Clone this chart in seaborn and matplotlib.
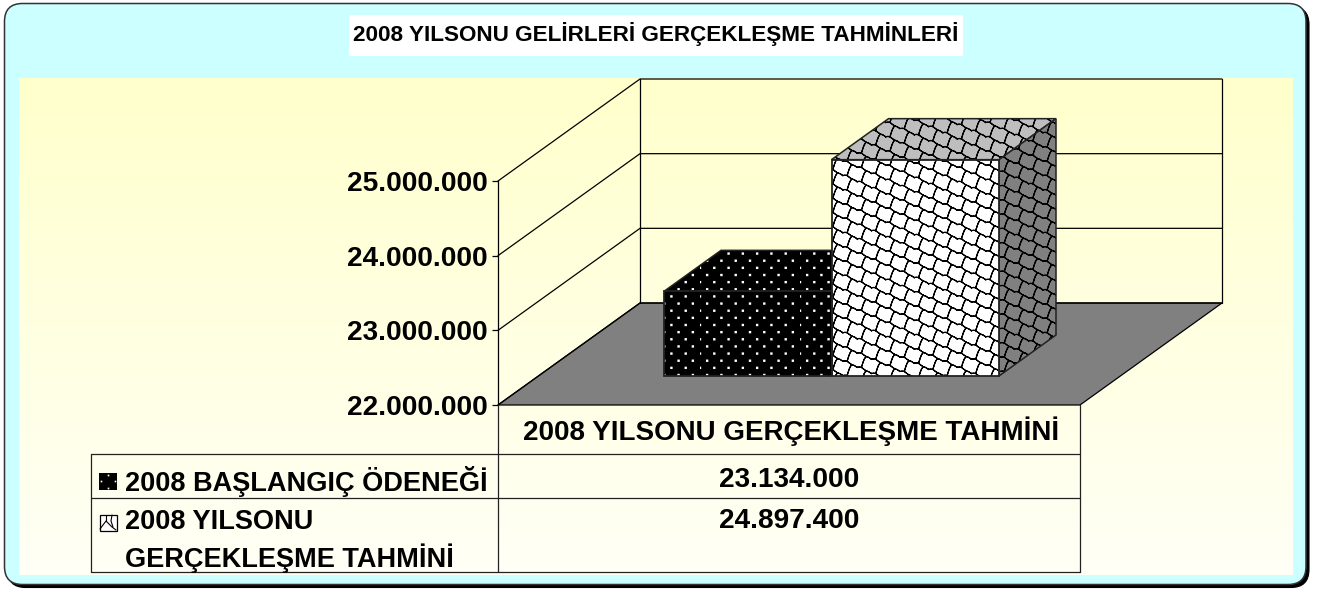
import numpy as np
import pandas as pd
import matplotlib.pyplot as plt
import matplotlib.hatch as mhatch
from matplotlib.colors import LinearSegmentedColormap
from matplotlib.patches import FancyBboxPatch, Polygon, Rectangle
from matplotlib.path import Path
from matplotlib.ticker import FuncFormatter
import seaborn as sns

# Data
category = ['2008 YILSONU GERÇEKLEŞME TAHMİNİ']
series_names = ['2008 BAŞLANGIÇ ÖDENEĞİ', '2008 YILSONU\nGERÇEKLEŞME TAHMİNİ']
series_values = [23134000, 24897400]
value_labels = ['23.134.000', '24.897.400']
y_ticks = [22000000, 23000000, 24000000, 25000000]
chart_title = '2008 YILSONU GELİRLERİ GERÇEKLEŞME TAHMİNLERİ'


# Excel style fill patterns as hatches ('.' = dots, 'O' = scales)
class DotHatch(mhatch.HatchPatternBase):
    def __init__(self, hatch, density):
        self.on = '.' in hatch
        self.num_vertices = 14 * 7 * 5 if self.on else 0

    def set_vertices_and_codes(self, vertices, codes):
        r = 0.006
        box = np.array([[-r, -r], [r, -r], [r, r], [-r, r], [-r, -r]])
        pts = []
        for row in range(14):
            for col in range(7):
                pts.append(box + [(col + (row % 2) * 0.5) / 7, (row + 0.5) / 14])
        vertices[:] = np.concatenate(pts)
        codes[:] = np.tile([Path.MOVETO, Path.LINETO, Path.LINETO, Path.LINETO, Path.CLOSEPOLY], 14 * 7)


class ScaleHatch(mhatch.HatchPatternBase):
    n = 7
    # one cell: a wavy strand going down to the right, and a link to the strand below (y is up here)
    strand = np.array([[0, 0], [0.15, 0.02], [0.30, 0.0], [0.45, -0.12], [0.62, -0.24], [0.80, -0.30], [1, -0.43]])
    link = np.array([[0.62, -0.24], [0.50, -0.42], [0.42, -0.62], [0.30, -1.0]])

    def __init__(self, hatch, density):
        self.on = 'O' in hatch
        per_cell = 2 * (len(self.strand) + len(self.link))
        self.num_vertices = self.n ** 2 * per_cell * 2 if self.on else 0

    def set_vertices_and_codes(self, vertices, codes):
        pts, cds = [], []
        for col in range(self.n):
            for row in range(self.n):
                base_y = (row - col * 3 / 7) / self.n % 1
                for wrap in (0, 1):
                    off = np.array([col / self.n, base_y + wrap])
                    for shape in (self.strand, self.link):
                        s = shape / self.n + off
                        # out and back so the line has no area to fill
                        for piece in (s, s[::-1]):
                            pts.append(piece)
                            cds.append([Path.MOVETO] + [Path.LINETO] * (len(piece) - 1))
        vertices[:] = np.concatenate(pts)
        codes[:] = np.concatenate(cds)


mhatch._hatch_types[:] = [DotHatch, ScaleHatch]

sns.set_theme(style='ticks', rc={'text.color': 'black', 'ytick.color': 'black', 'ytick.labelcolor': 'black'})
plt.rcParams['font.family'] = ['Liberation Sans', 'DejaVu Sans']
plt.rcParams['font.weight'] = 'bold'
plt.rcParams['hatch.linewidth'] = 0.85

W, H = 1321, 589
fig = plt.figure(figsize=(W / 100, H / 100), dpi=100)


def place(x0, y0, x1, y1, zorder):
    # axes from pixel box, y measured from the top
    return fig.add_axes([x0 / W, 1 - y1 / H, (x1 - x0) / W, (y1 - y0) / H], zorder=zorder)


def pixel_axes(zorder):
    a = place(0, 0, W, H, zorder)
    a.set_xlim(0, W)
    a.set_ylim(H, 0)
    a.axis('off')
    a.patch.set_alpha(0)
    return a


FLOOR_Y = 405
AXIS_X = 498
WALL_DX, WALL_DY = 142, 102
FRONT_X = AXIS_X + 582
BAR_DX, BAR_DY = 57, 41

# Panel and plot background
bg = pixel_axes(0)
bg.add_patch(FancyBboxPatch((7.5, 6.5), 1301.5, 581, boxstyle='round,pad=0,rounding_size=18', fc='black', ec='black', lw=0.8))
bg.add_patch(FancyBboxPatch((4.5, 3.5), 1301.5, 581, boxstyle='round,pad=0,rounding_size=18', fc='#CCFFFF', ec='#333333', lw=1.1))
grad = LinearSegmentedColormap.from_list('wall', ['#FFFFCC', '#FFFFF6'])
bg.imshow(np.linspace(0, 1, 256).reshape(-1, 1), cmap=grad, extent=(19, 1293, 575, 78), aspect='auto', zorder=1)
bg.set_xlim(0, W)
bg.set_ylim(H, 0)

# Value axis, on the left edge of the side wall
value_ax = place(AXIS_X, 181, AXIS_X + 142, FLOOR_Y, 1)
value_ax.patch.set_alpha(0)
value_ax.set_ylim(y_ticks[0], y_ticks[-1])
value_ax.set_xticks([])
value_ax.set_yticks(y_ticks)
value_ax.yaxis.set_major_formatter(FuncFormatter(lambda v, p: f'{int(v):,}'.replace(',', '.')))
value_ax.tick_params(axis='y', length=4.5, width=0.9, pad=3, labelsize=20.2, color='black')
sns.despine(ax=value_ax, right=True, top=True, bottom=True)
value_ax.spines['left'].set_color('black')
value_ax.spines['left'].set_linewidth(0.9)

# Walls and floor
bg.add_patch(Polygon([(AXIS_X, FLOOR_Y), (AXIS_X + WALL_DX, FLOOR_Y - WALL_DY), (FRONT_X + WALL_DX, FLOOR_Y - WALL_DY),
                      (FRONT_X, FLOOR_Y)], fc='#808080', ec='black', lw=0.9, zorder=2))
for tick in y_ticks:
    y = H - value_ax.transData.transform((0, tick))[1]
    bg.plot([AXIS_X, AXIS_X + WALL_DX, FRONT_X + WALL_DX], [y, y - WALL_DY, y - WALL_DY], color='black', lw=0.9, zorder=2)
bg.plot([AXIS_X + WALL_DX] * 2, [FLOOR_Y - WALL_DY, 181 - WALL_DY], color='black', lw=0.9, zorder=2)
bg.plot([FRONT_X + WALL_DX] * 2, [FLOOR_Y - WALL_DY, 181 - WALL_DY], color='black', lw=0.9, zorder=2)

# Bars, front faces drawn by seaborn
df = pd.DataFrame({'category': category * 2, 'series': series_names, 'value': series_values})
bar_ax = place(664, 152, 999, 376, 3)
bar_ax.patch.set_alpha(0)
sns.barplot(data=df, x='category', y='value', hue='series', hue_order=series_names, width=1, gap=0,
            palette=['black', 'white'], legend=False, ax=bar_ax, saturation=1)
bar_ax.set_xlim(-0.5, 0.5)
bar_ax.set_ylim(y_ticks[0], y_ticks[-1])
bar_ax.axis('off')

# Depth faces, worked out from the seaborn bars
depth = pixel_axes(2)
bars = list(bar_ax.patches)
styles = [('black', 'black', 'white', '.'), ('#BEBEBE', '#808080', 'black', 'O')]
for bar, (top_c, side_c, hatch_c, hatch) in zip(bars, styles):
    x0, x1 = bar.get_x(), bar.get_x() + bar.get_width()
    px0, py0 = bar_ax.transData.transform((x0, y_ticks[0]))
    px1, py1 = bar_ax.transData.transform((x1, bar.get_height()))
    py0, py1 = H - py0, H - py1
    top = [(px0, py1), (px0 + BAR_DX, py1 - BAR_DY), (px1 + BAR_DX, py1 - BAR_DY), (px1, py1)]
    side = [(px1, py0), (px1, py1), (px1 + BAR_DX, py1 - BAR_DY), (px1 + BAR_DX, py0 - BAR_DY)]
    for pts, c in ((top, top_c), (side, side_c)):
        depth.add_patch(Polygon(pts, fc=c, ec=hatch_c, lw=0, hatch=hatch))
        depth.add_patch(Polygon(pts, fill=False, ec='#222222', lw=1.1))
    bar.set_edgecolor(hatch_c)
    bar.set_linewidth(0)
    bar.set_hatch(hatch)
    bar_ax.add_patch(Rectangle((x0, y_ticks[0]), x1 - x0, bar.get_height() - y_ticks[0], fill=False, ec='#222222',
                               lw=1.3, clip_on=False))

# Title and data table
txt = pixel_axes(4)
txt.add_patch(Rectangle((349, 15), 614, 41, fc='white', ec='none'))
txt.text(655.5, 34, chart_title, fontsize=16.2, ha='center', va='center', color='black')

for y in (454, 498, 572):
    txt.plot([91, FRONT_X], [y, y], color='#222222', lw=0.9)
txt.plot([91, 91], [454, 572], color='#222222', lw=0.9)
txt.plot([AXIS_X, AXIS_X], [FLOOR_Y, 572], color='#222222', lw=0.9)
txt.plot([FRONT_X, FRONT_X], [FLOOR_Y, 572], color='#222222', lw=0.9)

center_x = (AXIS_X + FRONT_X) / 2
txt.text(center_x + 2, 431, category[0], fontsize=20, ha='center', va='center')
txt.text(125, 481.5, series_names[0], fontsize=19.5, ha='left', va='center')
first, second = series_names[1].split('\n')
txt.text(125, 522, first, fontsize=19.5, ha='left', va='center')
txt.text(125, 558, second, fontsize=19.5, ha='left', va='center')
txt.text(center_x, 480, value_labels[0], fontsize=20.2, ha='center', va='center')
txt.text(center_x, 521, value_labels[1], fontsize=20.2, ha='center', va='center')

# Legend keys
txt.add_patch(Rectangle((99, 473), 18, 17, fc='black', ec='none'))
txt.plot([101, 108, 115, 108], [481, 475, 481, 487.5], ls='none', marker='s', ms=1.2, mew=0, color='white')
txt.add_patch(Rectangle((99.5, 514.5), 17, 16, fc='white', ec='black', lw=0.9))
txt.plot([100, 106, 112, 116], [529, 521, 527, 530], color='black', lw=0.8)
txt.plot([106, 106], [515, 521], color='black', lw=0.8)
txt.plot([112, 111, 113], [515, 521, 527], color='black', lw=0.8)

plt.savefig('out.png', dpi=100)
